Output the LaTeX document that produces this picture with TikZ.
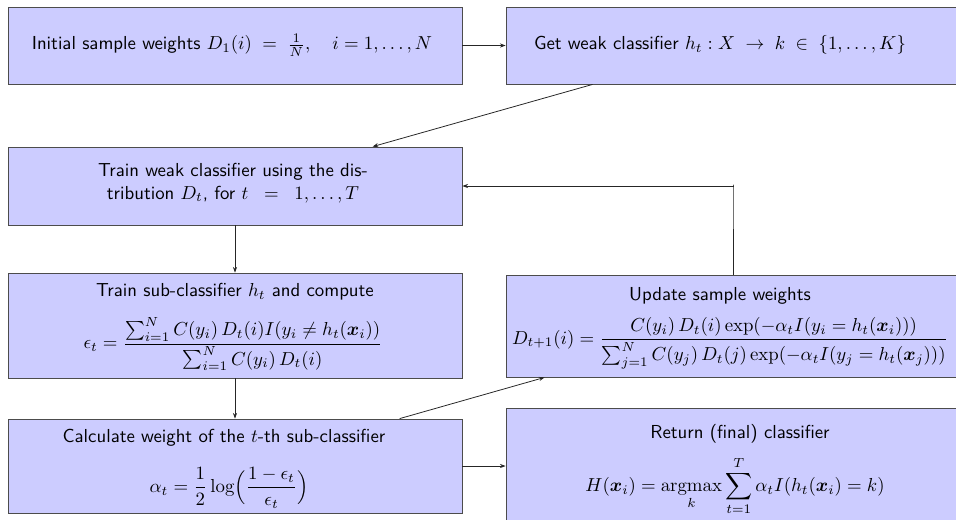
\documentclass[tikz,border=0pt]{standalone}
\usepackage{amsmath,bm}
\usetikzlibrary{arrows.meta,calc}
\newdimen\pxu
\pxu=0.532pt
\begin{document}
\begin{tikzpicture}[x=\pxu,y=-\pxu,
  stepbox/.style={draw=black!70,line width=0.42pt,fill=blue!20,
    rectangle,inner sep=0pt,minimum width=454*\pxu},
  txt/.style={font=\sffamily,inner sep=0pt,align=center},
  conn/.style={draw=black!85,line width=0.42pt,-{Stealth[length=3pt,width=2.2pt]}}]
\clip (0,0) rectangle (956,519);
\useasboundingbox (0,0) rectangle (956,519);

% boxes
\node[stepbox,minimum height=77*\pxu]  (b1) at (235,45.5) {};
\node[stepbox,minimum height=77*\pxu]  (b2) at (733,45.5) {};
\node[stepbox,minimum height=78*\pxu]  (b3) at (235,186) {};
\node[stepbox,minimum height=105*\pxu] (b4) at (235,325.5) {};
\node[stepbox,minimum height=102*\pxu] (b5) at (733,326) {};
\node[stepbox,minimum height=94*\pxu]  (b6) at (235,466) {};
\node[stepbox,minimum height=132*\pxu] (b7) at (733,474) {};

% texts
\node[txt] (t1) at (232,45) {Initial sample weights $D_1(i) \;=\; \frac{1}{N},\quad i = 1,\ldots,N$};
\node[txt] (t2) at (720,45) {Get weak classifier $h_t : X \;\to\; k \;\in\; \{1,\ldots,K\}$};
\node[txt] (t3) at (233,183) {Train weak classifier using the dis-\\tribution $D_t$, for $t \;\;=\;\; 1,\ldots,T$};

\node[txt] (t4) at (235,292) {Train sub-classifier $h_t$ and compute};
\node[txt] (f4) at (233,344) {$\displaystyle \epsilon_t = \frac{\sum_{i=1}^{N} C(y_i)\, D_t(i) I(y_i \neq h_t(\bm{x}_i))}{\sum_{i=1}^{N} C(y_i)\, D_t(i)}$};

\node[txt] (t5) at (720,296) {Update sample weights};
\node[txt] (f5) at (730,343) {$\displaystyle D_{t+1}(i) = \frac{C(y_i)\, D_t(i) \exp(-\alpha_t I(y_i = h_t(\bm{x}_i)))}{\sum_{j=1}^{N} C(y_j)\, D_t(j) \exp(-\alpha_t I(y_j = h_t(\bm{x}_j)))}$};

\node[txt] (t6) at (224,438) {Calculate weight of the $t$-th sub-classifier};
\node[txt] (f6) at (229,488) {$\displaystyle \alpha_t = \frac{1}{2} \log\Bigl(\frac{1-\epsilon_t}{\epsilon_t}\Bigr)$};

\node[txt] (t7) at (740,434) {Return (final) classifier};
\node[txt] (f7) at (735,486) {$\displaystyle H(\bm{x}_i) = \operatorname*{argmax}_{k} \sum_{t=1}^{T} \alpha_t I(h_t(\bm{x}_i) = k)$};

% connectors
\draw[conn] (b1.east) -- (b2.west);
\draw[conn] ($(b2.south west)+(87,0)$) -- ($(b3.north west)+(365,0)$);
\draw[conn] (b3.south) -- (b4.north);
\draw[conn] (b4.south) -- (b6.north);
\draw[conn] ($(b6.north west)+(392,0)$) -- ($(b5.south west)+(39,0)$);
\draw[conn] (b5.north) -- ++(0,-90) |- (b3.east);
\draw[conn] (b6.east) -- (b7.west |- b6.east);
\end{tikzpicture}
\end{document}
